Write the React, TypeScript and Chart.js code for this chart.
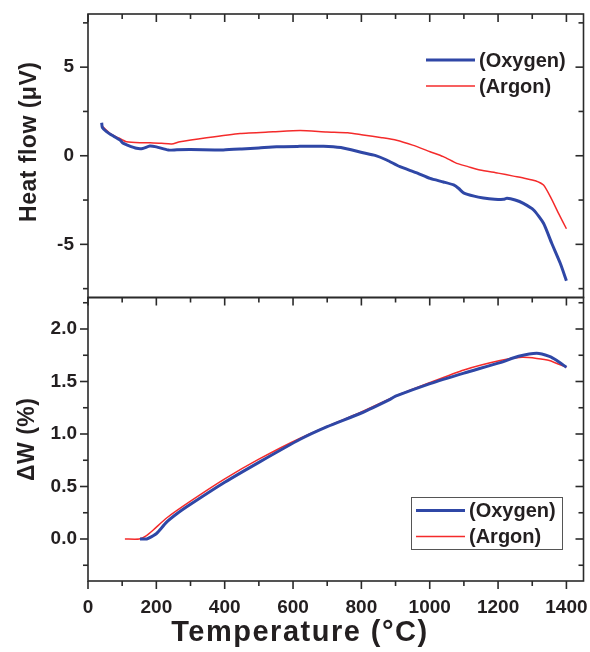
import React, { useEffect, useRef } from 'react';
import { Chart, registerables } from 'chart.js';

Chart.register(...registerables);

// ---- Data ----
const heatOxygenT = [40, 42, 55, 75, 94, 103, 115, 142, 160, 181, 200, 235, 260, 300, 396, 450, 500, 552, 620, 689, 740, 805, 840, 874, 913, 960, 1001, 1040, 1070, 1085, 1099, 1130, 1157, 1190, 1216, 1226, 1250, 1274, 1304, 1333, 1357, 1382, 1400];
const heatOxygen = [1.86, 1.6, 1.35, 1.1, 0.88, 0.7, 0.6, 0.42, 0.41, 0.55, 0.5, 0.32, 0.34, 0.35, 0.33, 0.38, 0.44, 0.51, 0.53, 0.54, 0.46, 0.17, 0.02, -0.24, -0.62, -0.95, -1.28, -1.48, -1.65, -1.85, -2.09, -2.28, -2.38, -2.45, -2.46, -2.4, -2.5, -2.69, -3.06, -3.81, -4.94, -6.07, -7.05];

const heatArgonT = [40, 64, 90, 113, 152, 182, 215, 245, 269, 347, 445, 542, 621, 699, 760, 805, 860, 903, 950, 1001, 1040, 1079, 1110, 1147, 1200, 1245, 1280, 1309, 1333, 1353, 1377, 1400];
const heatArgon = [1.7, 1.26, 1.0, 0.79, 0.73, 0.74, 0.7, 0.66, 0.79, 1.02, 1.26, 1.35, 1.42, 1.34, 1.3, 1.17, 1.02, 0.88, 0.6, 0.23, -0.05, -0.43, -0.6, -0.81, -0.98, -1.15, -1.28, -1.41, -1.65, -2.31, -3.25, -4.12];

const dwOxygenT = [152, 172, 185, 201, 230, 260, 300, 400, 500, 621, 700, 800, 884, 900, 1001, 1100, 1206, 1260, 1313, 1350, 1372, 1400];
const dwOxygen = [0, 0, 0.02, 0.054, 0.16, 0.24, 0.33, 0.54, 0.73, 0.95, 1.07, 1.2, 1.33, 1.36, 1.48, 1.58, 1.68, 1.74, 1.77, 1.74, 1.7, 1.635];

const dwArgonT = [108, 150, 170, 191, 230, 300, 399, 500, 621, 800, 900, 1001, 1100, 1206, 1270, 1313, 1350, 1400];
const dwArgon = [0, 0, 0.03, 0.086, 0.2, 0.36, 0.57, 0.76, 0.96, 1.21, 1.36, 1.49, 1.61, 1.7, 1.73, 1.72, 1.7, 1.635];

const seriesNames = ['(Oxygen)', '(Argon)'];
const xMajorTicks = [0, 200, 400, 600, 800, 1000, 1200, 1400];
const heatMajorTicks = [-5, 0, 5];
const dwMajorTicks = [0, 0.5, 1, 1.5, 2];

const xTitle = 'Temperature (°C)';
const heatTitle = 'Heat flow (\u03BCV)';
const dwTitle = '\u0394W (%)';

const BLUE = '#2f47a6';
const RED = '#f42b2b';
const INK = '#231f20';
const FONT = '"Liberation Sans", Arial, Helvetica, sans-serif';

const pairs = (xs: number[], ys: number[]) => xs.map((x, i) => ({ x, y: ys[i] }));

const framePlugin = {
  id: 'frameTicks',
  afterDraw(chart: any) {
    const ctx = chart.ctx;
    const xs = chart.scales.x;
    const yH = chart.scales.yHeat;
    const yW = chart.scales.yDw;
    const L = chart.chartArea.left;
    const R = chart.chartArea.right;
    const MAJ = 8;
    const MIN = 5;
    ctx.save();
    ctx.strokeStyle = '#2a2a2a';
    ctx.lineWidth = 1.6;
    const line = (x1: number, y1: number, x2: number, y2: number) => {
      ctx.beginPath();
      ctx.moveTo(x1, y1);
      ctx.lineTo(x2, y2);
      ctx.stroke();
    };
    [yH, yW].forEach((ys: any) => {
      ctx.strokeRect(L, ys.top, R - L, ys.bottom - ys.top);
    });
    // x ticks
    for (let v = 0; v <= 1400; v += 100) {
      const px = xs.getPixelForValue(v);
      const len = v % 200 === 0 ? MAJ : MIN;
      line(px, yH.top, px, yH.top + len);
      line(px, yW.top, px, yW.top + len);
      line(px, yW.bottom, px, yW.bottom + len);
    }
    // heat y ticks
    for (let i = -3; i <= 3; i++) {
      const v = i * 2.5;
      const py = yH.getPixelForValue(v);
      const len = i % 2 === 0 ? MAJ : MIN;
      line(L - len, py, L, py);
      line(R - len, py, R, py);
    }
    // dw y ticks
    for (let i = -1; i <= 9; i++) {
      const v = i * 0.25;
      const py = yW.getPixelForValue(v);
      const len = i % 2 === 0 ? MAJ : MIN;
      line(L - len, py, L, py);
      line(R - len, py, R, py);
    }

    // axis titles
    ctx.fillStyle = INK;
    ctx.textAlign = 'center';
    ctx.textBaseline = 'middle';
    ctx.font = `bold 29px ${FONT}`;
    (ctx as any).letterSpacing = '1.5px';
    ctx.fillText(xTitle, 300, 633);
    ctx.font = `bold 23px ${FONT}`;
    (ctx as any).letterSpacing = '0.5px';
    ctx.save();
    ctx.translate(30, (yH.top + yH.bottom) / 2 - 14);
    ctx.rotate(-Math.PI / 2);
    ctx.fillText(heatTitle, 0, 0);
    ctx.restore();
    ctx.save();
    ctx.translate(28, (yW.top + yW.bottom) / 2);
    ctx.rotate(-Math.PI / 2);
    ctx.fillText(dwTitle, 0, 0);
    ctx.restore();
    (ctx as any).letterSpacing = '0px';

    // legends
    const ds = chart.data.datasets;
    const drawLegend = (x0: number, y0: number, gap: number, idxs: number[], boxed: boolean) => {
      if (boxed) {
        ctx.strokeStyle = '#555';
        ctx.lineWidth = 1;
        ctx.strokeRect(x0 - 4.5, y0 - 13, 151, 52);
      }
      idxs.forEach((di, k) => {
        const d = ds[di];
        const yy = y0 + k * gap;
        ctx.strokeStyle = d.borderColor;
        ctx.lineWidth = d.borderWidth;
        line(x0, yy, x0 + 49, yy);
        ctx.fillStyle = INK;
        ctx.font = `bold 20px ${FONT}`;
        ctx.textAlign = 'left';
        ctx.textBaseline = 'middle';
        ctx.fillText(d.label, x0 + 53, yy + 1);
      });
    };
    drawLegend(426, 60, 26, [0, 1], false);
    drawLegend(416, 510.5, 26, [2, 3], true);
    ctx.restore();
  },
};

export default function App() {
  const ref = useRef<HTMLCanvasElement | null>(null);
  useEffect(() => {
    if (!ref.current) return;
    const setTicks = (list: number[]) => (scale: any) => {
      scale.ticks = list.map((v) => ({ value: v }));
    };
    const fitX = (s: any) => {
      s.height = 35;
      s.paddingLeft = 0;
      s.paddingRight = 0;
    };
    const fitY = (s: any) => {
      s.width = 88;
      s.paddingTop = 0;
      s.paddingBottom = 0;
    };
    const tickFont = { family: FONT, size: 19, weight: 'bold' };
    const chart = new Chart(ref.current, {
      type: 'line',
      data: {
        datasets: [
          { label: seriesNames[0], data: pairs(heatOxygenT, heatOxygen), borderColor: BLUE, borderWidth: 3, yAxisID: 'yHeat', pointRadius: 0, tension: 0.2 },
          { label: seriesNames[1], data: pairs(heatArgonT, heatArgon), borderColor: RED, borderWidth: 1.5, yAxisID: 'yHeat', pointRadius: 0, tension: 0.2 },
          { label: seriesNames[0], data: pairs(dwOxygenT, dwOxygen), borderColor: BLUE, borderWidth: 3, yAxisID: 'yDw', pointRadius: 0, tension: 0.2 },
          { label: seriesNames[1], data: pairs(dwArgonT, dwArgon), borderColor: RED, borderWidth: 1.5, yAxisID: 'yDw', pointRadius: 0, tension: 0.2 },
        ],
      },
      options: {
        animation: false,
        responsive: true,
        maintainAspectRatio: false,
        layout: { padding: { left: 0, right: 6.5, top: 14, bottom: 36 } },
        plugins: {
          legend: { display: false },
          tooltip: { enabled: false },
          title: { display: false },
        },
        scales: {
          x: {
            type: 'linear',
            min: 0,
            max: 1450,
            grid: { display: false, drawTicks: false },
            border: { display: false },
            afterBuildTicks: setTicks(xMajorTicks),
            afterFit: fitX,
            ticks: { color: INK, font: tickFont, padding: 15, maxRotation: 0, autoSkip: false, callback: (v: any) => String(v) },
          },
          yDw: {
            type: 'linear',
            position: 'left',
            stack: 'panels',
            stackWeight: 1,
            min: -0.4,
            max: 2.3,
            grid: { display: false, drawTicks: false },
            border: { display: false },
            afterBuildTicks: setTicks(dwMajorTicks),
            afterFit: fitY,
            ticks: { color: INK, font: tickFont, padding: 11, callback: (v: any) => Number(v).toFixed(1) },
          },
          yHeat: {
            type: 'linear',
            position: 'left',
            stack: 'panels',
            stackWeight: 1,
            min: -8,
            max: 8,
            grid: { display: false, drawTicks: false },
            border: { display: false },
            afterBuildTicks: setTicks(heatMajorTicks),
            afterFit: fitY,
            ticks: { color: INK, font: tickFont, padding: 14, callback: (v: any) => String(v) },
          },
        },
      } as any,
      plugins: [framePlugin],
    });
    return () => chart.destroy();
  }, []);
  return (
    <div style={{ position: 'absolute', left: 0, top: 0, width: 590, height: 652, background: '#fff' }}>
      <canvas ref={ref} />
    </div>
  );
}
